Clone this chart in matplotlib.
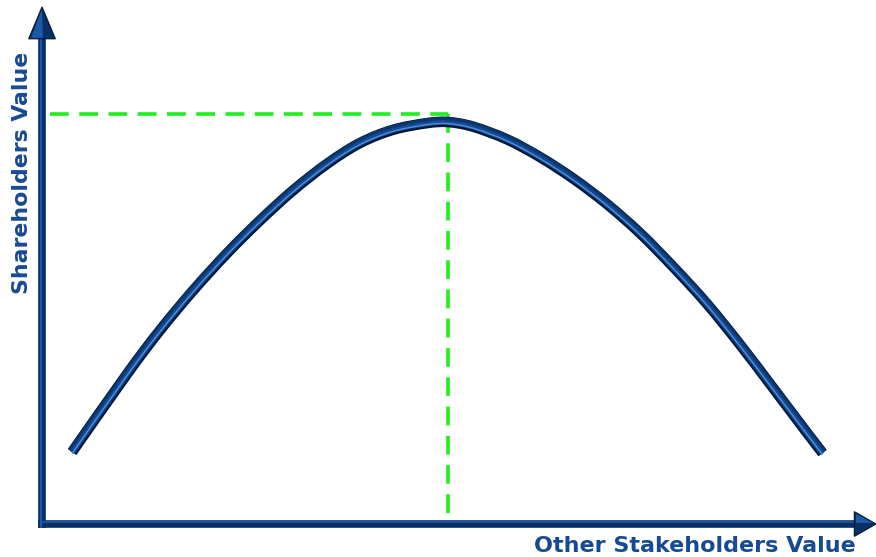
"""
Shareholders value vs other stakeholders value - inverted U curve.
"""
import matplotlib
matplotlib.use('Agg')
import matplotlib.pyplot as plt
from matplotlib.patches import Polygon, PathPatch
from matplotlib.path import Path

# Curve (x = other stakeholders value, y = shareholders value)
curve_x = [3.6, 10.2, 14.1, 18.1, 22.2, 26.1, 30.1, 34.2, 38.1, 42.1, 46.2, 48.7,
           51.7, 55.8, 59.7, 63.7, 67.7, 71.7, 75.7, 79.7, 83.7, 87.6, 91.7, 93.6]
curve_y = [14.0, 29.2, 37.6, 45.4, 52.7, 59.0, 64.9, 70.1, 74.1, 76.7, 78.0, 78.2,
           77.3, 74.8, 71.4, 67.2, 62.3, 56.6, 50.0, 42.9, 34.9, 26.6, 17.8, 13.8]

# Optimum marker (dashed guide lines)
peak_x = 48.7
peak_y = 79.8

x_label = 'Other Stakeholders Value'
y_label = 'Shareholders Value'

text_color = '#174a94'
navy = '#0a2f66'
mid_blue = '#1c5aa8'
green = '#1ef01e'


def smooth_path(xs, ys, dy=0.0):
    # Catmull-Rom through the read points, drawn as cubic Bezier segments
    pts = list(zip(xs, [v + dy for v in ys]))
    verts = [pts[0]]
    codes = [Path.MOVETO]
    for i in range(len(pts) - 1):
        p0 = pts[i - 1] if i > 0 else pts[i]
        p1, p2 = pts[i], pts[i + 1]
        p3 = pts[i + 2] if i + 2 < len(pts) else pts[i + 1]
        c1 = (p1[0] + (p2[0] - p0[0]) / 6, p1[1] + (p2[1] - p0[1]) / 6)
        c2 = (p2[0] - (p3[0] - p1[0]) / 6, p2[1] - (p3[1] - p1[1]) / 6)
        verts += [c1, c2, p2]
        codes += [Path.CURVE4] * 3
    return Path(verts, codes)


fig = plt.figure(figsize=(8.76, 5.57), dpi=100)
ax = fig.add_axes([0, 0, 1, 1])
ax.set_xlim(-5.04, 100)
ax.set_ylim(-6.42, 101.95)
ax.axis('off')

# Green dashed guides
ax.plot([0.9, peak_x], [peak_y, peak_y], color=green, lw=2.6,
        dashes=(5.2, 2.9), solid_capstyle='butt', zorder=2)
ax.plot([peak_x, peak_x], [peak_y, 0.8], color=green, lw=2.6,
        dashes=(5.2, 2.9), solid_capstyle='butt', zorder=2)

# Curve as a shaded tube
tube = [('#021530', 7.6, 0.0), ('#0b3670', 5.8, 0.15), ('#134a92', 3.2, -0.1),
        ('#4f8fdc', 1.0, -0.3)]
for col, lw, dy in tube:
    ax.add_patch(PathPatch(smooth_path(curve_x, curve_y, dy), facecolor='none',
                           edgecolor=col, lw=lw, capstyle='butt',
                           joinstyle='round', zorder=4))

# Y axis arrow
ax.plot([0, 0], [-0.8, 94.6], color=navy, lw=5.5, solid_capstyle='butt',
        zorder=6, clip_on=False)
ax.plot([-0.15, -0.15], [-0.8, 94.6], color=mid_blue, lw=1.6,
        solid_capstyle='butt', zorder=7, clip_on=False)
ax.add_patch(Polygon([(-1.6, 94.4), (1.6, 94.4), (0, 100.6)], closed=True,
                     facecolor=navy, edgecolor='#03152e', lw=0.8, zorder=8,
                     clip_on=False))
ax.add_patch(Polygon([(-1.3, 94.6), (0.1, 94.6), (0, 100.2)], closed=True,
                     facecolor=mid_blue, edgecolor='none', zorder=9, clip_on=False))

# X axis arrow
ax.plot([-0.5, 97.6], [0, 0], color=navy, lw=5.5, solid_capstyle='butt',
        zorder=6, clip_on=False)
ax.plot([-0.3, 97.6], [0.3, 0.3], color=mid_blue, lw=1.2,
        solid_capstyle='butt', zorder=7, clip_on=False)
ax.add_patch(Polygon([(97.4, 2.4), (97.4, -2.4), (100.0, 0)], closed=True,
                     facecolor=navy, edgecolor='#03152e', lw=0.8, zorder=8,
                     clip_on=False))
ax.add_patch(Polygon([(97.6, 2.0), (97.6, 0.1), (99.6, 0.1)], closed=True,
                     facecolor=mid_blue, edgecolor='none', zorder=9, clip_on=False))

# Axis labels
ax.text(78.3, -4.3, x_label, ha='center', va='center', fontsize=16,
        fontweight='bold', color=text_color)
ax.text(-2.4, 68.3, y_label, ha='center', va='center', rotation=90,
        fontsize=15.8, fontweight='bold', color=text_color)

plt.savefig('out.png', dpi=100, facecolor='white')
plt.close()
